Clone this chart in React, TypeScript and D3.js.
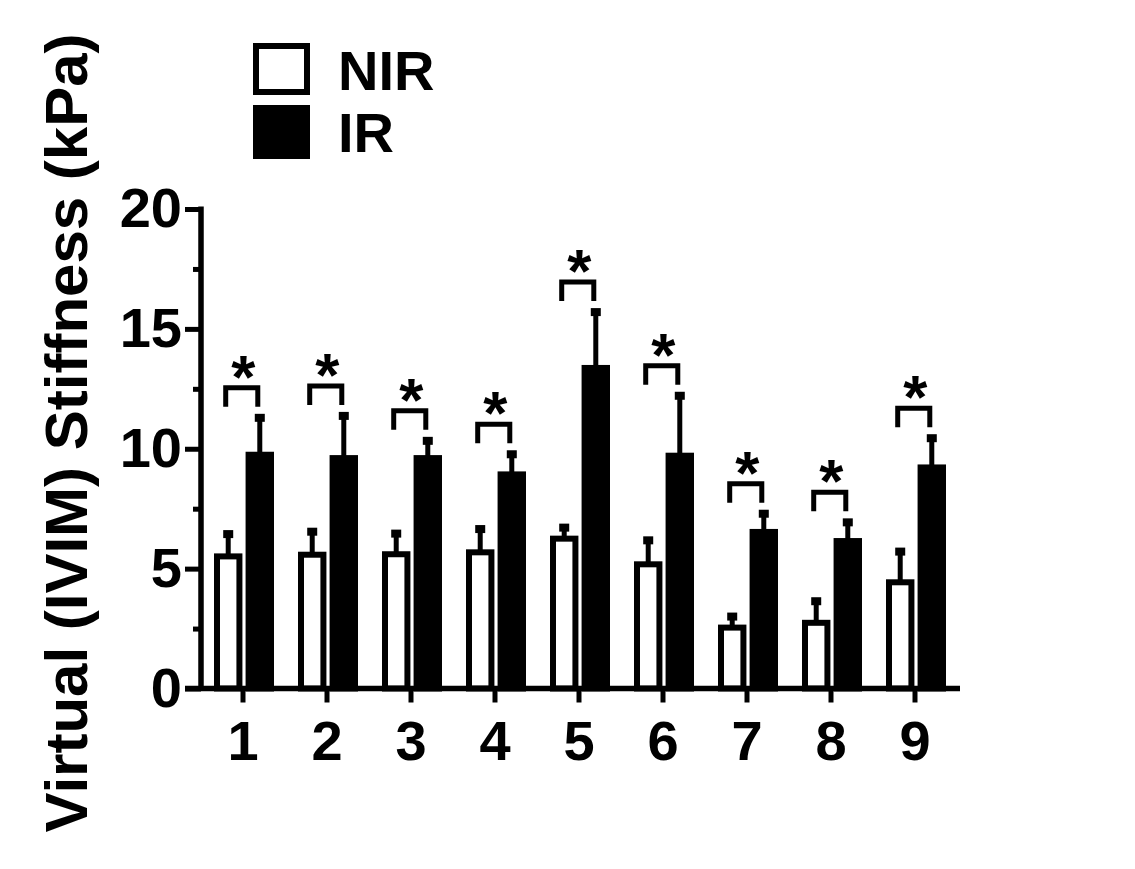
import React, { useRef, useEffect } from "react";
import * as d3 from "d3";

// values (kPa, mean and SD)
const groups = ["1", "2", "3", "4", "5", "6", "7", "8", "9"];
const series = ["NIR", "IR"];
const nirMean = [5.51, 5.58, 5.6, 5.68, 6.25, 5.18, 2.54, 2.74, 4.43];
const nirSD = [0.93, 0.96, 0.86, 0.97, 0.46, 1.0, 0.46, 0.9, 1.28];
const irMean = [9.75, 9.61, 9.61, 8.93, 13.37, 9.71, 6.53, 6.15, 9.22];
const irSD = [1.54, 1.76, 0.72, 0.84, 2.33, 2.5, 0.76, 0.78, 1.22];
const majorTicks = [0, 5, 10, 15, 20];
const minorTicks = [2.5, 7.5, 12.5, 17.5];

const FONT = "'Liberation Sans', Arial, Helvetica, sans-serif";

const App = () => {
  const svgRef = useRef<SVGSVGElement>(null);

  useEffect(() => {
    const w = 1135;
    const h = 869;
    const svg = d3.select(svgRef.current).attr("width", w).attr("height", h);
    svg.selectAll("*").remove();

    const x = d3.scaleBand().domain(groups).range([201, 957]);
    const x1 = d3.scaleBand().domain(series).range([-29, 31]).paddingInner(0.1);
    const y = d3.scaleLinear().domain([0, 20]).range([688.5, 209]);
    const bw = x1.bandwidth();

    const rows = groups.map((g, i) => ({
      g,
      nir: nirMean[i],
      nirSd: nirSD[i],
      ir: irMean[i],
      irSd: irSD[i],
    }));

    const plot = svg.append("g");

    // bars
    rows.forEach((d) => {
      const c = x(d.g)! + x.bandwidth() / 2;
      [
        { s: "NIR", v: d.nir, e: d.nirSd, fill: "#fff" },
        { s: "IR", v: d.ir, e: d.irSd, fill: "#000" },
      ].forEach((b) => {
        const bx = c + x1(b.s)!;
        const cx = bx + bw / 2;
        plot
          .append("rect")
          .attr("x", bx + 3)
          .attr("y", y(b.v))
          .attr("width", bw - 6)
          .attr("height", y(0) - y(b.v))
          .attr("fill", b.fill)
          .attr("stroke", "#000")
          .attr("stroke-width", 6);
        plot
          .append("line")
          .attr("x1", cx)
          .attr("x2", cx)
          .attr("y1", y(b.v))
          .attr("y2", y(b.v + b.e))
          .attr("stroke", "#000")
          .attr("stroke-width", 5);
        plot
          .append("rect")
          .attr("x", cx - 5)
          .attr("y", y(b.v + b.e) - 4)
          .attr("width", 10)
          .attr("height", 8)
          .attr("fill", "#000");
      });

      // significance bracket
      const left = c + x1("NIR")! + bw / 2 - 2.5;
      const right = c + x1("IR")! + bw / 2 - 2;
      const legBottom = y(d.ir + d.irSd) - 11;
      const top = legBottom - 19;
      plot
        .append("path")
        .attr("d", `M${left},${legBottom}V${top}H${right}V${legBottom}`)
        .attr("fill", "none")
        .attr("stroke", "#000")
        .attr("stroke-width", 5);
      plot
        .append("text")
        .attr("x", (left + right) / 2 + 1.5)
        .attr("y", top + 10)
        .attr("text-anchor", "middle")
        .attr("font-family", FONT)
        .attr("font-weight", "bold")
        .attr("font-size", 62)
        .text("*");
    });

    // y axis
    const yAxis = svg
      .append("g")
      .attr("transform", "translate(201,0)")
      .call(
        d3.axisLeft(y).tickValues(majorTicks).tickSize(16).tickPadding(3).tickSizeOuter(0)
      );
    yAxis.select(".domain").remove();
    yAxis.selectAll(".tick line").attr("stroke-width", 5);
    yAxis
      .selectAll(".tick text")
      .attr("font-family", FONT)
      .attr("font-weight", "bold")
      .attr("font-size", 56)
      .attr("fill", "#000");

    const yMinor = svg
      .append("g")
      .attr("transform", "translate(201,0)")
      .call(d3.axisLeft(y).tickValues(minorTicks).tickSize(8).tickFormat(() => ""));
    yMinor.select(".domain").remove();
    yMinor.selectAll(".tick line").attr("stroke-width", 5);

    svg
      .append("line")
      .attr("x1", 201)
      .attr("x2", 201)
      .attr("y1", y(20) - 2.5)
      .attr("y2", y(0))
      .attr("stroke", "#000")
      .attr("stroke-width", 5.5);

    // x axis
    const xAxis = svg
      .append("g")
      .attr("transform", `translate(0,${y(0)})`)
      .call(d3.axisBottom(x).tickSize(14).tickPadding(17.5));
    xAxis.select(".domain").remove();
    xAxis.selectAll(".tick line").attr("stroke-width", 5);
    xAxis
      .selectAll(".tick text")
      .attr("font-family", FONT)
      .attr("font-weight", "bold")
      .attr("font-size", 56)
      .attr("fill", "#000");

    svg
      .append("line")
      .attr("x1", 185)
      .attr("x2", 960)
      .attr("y1", y(0))
      .attr("y2", y(0))
      .attr("stroke", "#000")
      .attr("stroke-width", 5.5);

    // y title
    svg
      .append("text")
      .attr("transform", "translate(87,433) rotate(-90)")
      .attr("text-anchor", "middle")
      .attr("font-family", FONT)
      .attr("font-weight", "bold")
      .attr("font-size", 60)
      .text("Virtual (IVIM) Stiffness (kPa)");

    // legend
    const legend = svg.append("g");
    legend
      .append("rect")
      .attr("x", 256)
      .attr("y", 46)
      .attr("width", 51)
      .attr("height", 46)
      .attr("fill", "#fff")
      .attr("stroke", "#000")
      .attr("stroke-width", 6);
    legend
      .append("rect")
      .attr("x", 253)
      .attr("y", 105)
      .attr("width", 57)
      .attr("height", 54)
      .attr("fill", "#000");
    series.forEach((s, i) => {
      legend
        .append("text")
        .attr("x", 338)
        .attr("y", 90 + i * 62)
        .attr("font-family", FONT)
        .attr("font-weight", "bold")
        .attr("font-size", 56)
        .text(s);
    });
  }, []);

  return (
    <div style={{ position: "absolute", left: 0, top: 0, background: "#fff" }}>
      <svg ref={svgRef} style={{ display: "block" }}></svg>
    </div>
  );
};

export default App;
